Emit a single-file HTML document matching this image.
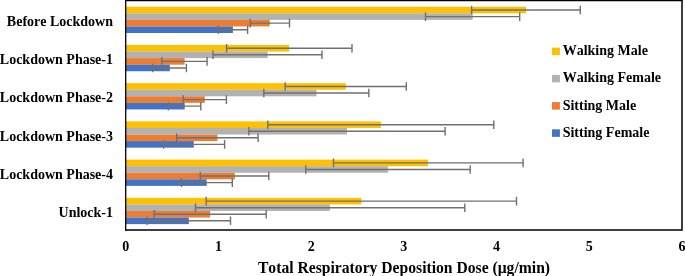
<!DOCTYPE html>
<html><head><meta charset="utf-8"><title>Total Respiratory Deposition Dose</title>
<style>
html,body{margin:0;padding:0;background:#fff;}
body{width:685px;height:276px;overflow:hidden;}
svg{display:block;will-change:transform;}
text{font-family:"Liberation Serif","Times New Roman",serif;font-weight:bold;fill:#000;font-kerning:none;}
</style></head><body>
<svg width="685" height="276" viewBox="0 0 685 276">
<rect width="685" height="276" fill="#fff"/>

<rect x="125.7" y="6.74" width="400.30" height="6.57" fill="#FFC000"/>
<rect x="125.7" y="13.30" width="347.00" height="6.57" fill="#B2B2B2"/>
<rect x="125.7" y="19.87" width="144.00" height="6.57" fill="#ED7D31"/>
<rect x="125.7" y="26.44" width="107.20" height="6.57" fill="#4472C4"/>
<path d="M471.6 10.02H580.3M471.6 5.72V14.32M580.3 5.72V14.32" stroke="#707070" stroke-width="1.4" fill="none"/>
<path d="M425.5 16.59H519.7M425.5 12.29V20.89M519.7 12.29V20.89" stroke="#707070" stroke-width="1.4" fill="none"/>
<path d="M250.3 23.15H289.5M250.3 18.85V27.45M289.5 18.85V27.45" stroke="#707070" stroke-width="1.4" fill="none"/>
<path d="M218.4 29.72H247.6M218.4 25.42V34.02M247.6 25.42V34.02" stroke="#707070" stroke-width="1.4" fill="none"/>
<text x="113" y="26.00" text-anchor="end" font-size="14">Before Lockdown</text>
<rect x="125.7" y="44.96" width="163.50" height="6.57" fill="#FFC000"/>
<rect x="125.7" y="51.52" width="141.90" height="6.57" fill="#B2B2B2"/>
<rect x="125.7" y="58.09" width="58.90" height="6.57" fill="#ED7D31"/>
<rect x="125.7" y="64.66" width="44.10" height="6.57" fill="#4472C4"/>
<path d="M226.6 48.24H352M226.6 43.94V52.54M352 43.94V52.54" stroke="#707070" stroke-width="1.4" fill="none"/>
<path d="M213 54.81H322M213 50.51V59.11M322 50.51V59.11" stroke="#707070" stroke-width="1.4" fill="none"/>
<path d="M161.8 61.37H207.1M161.8 57.07V65.67M207.1 57.07V65.67" stroke="#707070" stroke-width="1.4" fill="none"/>
<path d="M152.7 67.94H186.4M152.7 63.64V72.24M186.4 63.64V72.24" stroke="#707070" stroke-width="1.4" fill="none"/>
<text x="113" y="64.22" text-anchor="end" font-size="14">Lockdown Phase-1</text>
<rect x="125.7" y="83.18" width="220.05" height="6.57" fill="#FFC000"/>
<rect x="125.7" y="89.74" width="190.80" height="6.57" fill="#B2B2B2"/>
<rect x="125.7" y="96.31" width="79.10" height="6.57" fill="#ED7D31"/>
<rect x="125.7" y="102.88" width="59.00" height="6.57" fill="#4472C4"/>
<path d="M285.2 86.46H406.3M285.2 82.16V90.76M406.3 82.16V90.76" stroke="#707070" stroke-width="1.4" fill="none"/>
<path d="M263.8 93.03H368.8M263.8 88.73V97.33M368.8 88.73V97.33" stroke="#707070" stroke-width="1.4" fill="none"/>
<path d="M183.2 99.59H226.4M183.2 95.29V103.89M226.4 95.29V103.89" stroke="#707070" stroke-width="1.4" fill="none"/>
<path d="M168.3 106.16H200.8M168.3 101.86V110.46M200.8 101.86V110.46" stroke="#707070" stroke-width="1.4" fill="none"/>
<text x="113" y="102.44" text-anchor="end" font-size="14">Lockdown Phase-2</text>
<rect x="125.7" y="121.40" width="255.20" height="6.57" fill="#FFC000"/>
<rect x="125.7" y="127.96" width="221.20" height="6.57" fill="#B2B2B2"/>
<rect x="125.7" y="134.53" width="91.70" height="6.57" fill="#ED7D31"/>
<rect x="125.7" y="141.10" width="68.10" height="6.57" fill="#4472C4"/>
<path d="M267.8 124.68H493.8M267.8 120.38V128.98M493.8 120.38V128.98" stroke="#707070" stroke-width="1.4" fill="none"/>
<path d="M248.9 131.25H445.1M248.9 126.95V135.55M445.1 126.95V135.55" stroke="#707070" stroke-width="1.4" fill="none"/>
<path d="M176.7 137.81H258.1M176.7 133.51V142.11M258.1 133.51V142.11" stroke="#707070" stroke-width="1.4" fill="none"/>
<path d="M163.6 144.38H224.6M163.6 140.08V148.68M224.6 140.08V148.68" stroke="#707070" stroke-width="1.4" fill="none"/>
<text x="113" y="140.66" text-anchor="end" font-size="14">Lockdown Phase-3</text>
<rect x="125.7" y="159.62" width="302.40" height="6.57" fill="#FFC000"/>
<rect x="125.7" y="166.18" width="262.20" height="6.57" fill="#B2B2B2"/>
<rect x="125.7" y="172.75" width="109.10" height="6.57" fill="#ED7D31"/>
<rect x="125.7" y="179.32" width="81.00" height="6.57" fill="#4472C4"/>
<path d="M333.5 162.90H523.1M333.5 158.60V167.20M523.1 158.60V167.20" stroke="#707070" stroke-width="1.4" fill="none"/>
<path d="M305.7 169.47H470.2M305.7 165.17V173.77M470.2 165.17V173.77" stroke="#707070" stroke-width="1.4" fill="none"/>
<path d="M200.3 176.03H268.8M200.3 171.73V180.33M268.8 171.73V180.33" stroke="#707070" stroke-width="1.4" fill="none"/>
<path d="M181.4 182.60H232.3M181.4 178.30V186.90M232.3 178.30V186.90" stroke="#707070" stroke-width="1.4" fill="none"/>
<text x="113" y="178.88" text-anchor="end" font-size="14">Lockdown Phase-4</text>
<rect x="125.7" y="197.84" width="235.70" height="6.57" fill="#FFC000"/>
<rect x="125.7" y="204.40" width="204.20" height="6.57" fill="#B2B2B2"/>
<rect x="125.7" y="210.97" width="84.40" height="6.57" fill="#ED7D31"/>
<rect x="125.7" y="217.54" width="63.10" height="6.57" fill="#4472C4"/>
<path d="M206.2 201.12H516.5M206.2 196.82V205.42M516.5 196.82V205.42" stroke="#707070" stroke-width="1.4" fill="none"/>
<path d="M195.5 207.69H464.8M195.5 203.39V211.99M464.8 203.39V211.99" stroke="#707070" stroke-width="1.4" fill="none"/>
<path d="M154.3 214.25H266.2M154.3 209.95V218.55M266.2 209.95V218.55" stroke="#707070" stroke-width="1.4" fill="none"/>
<path d="M147.1 220.82H230.5M147.1 216.52V225.12M230.5 216.52V225.12" stroke="#707070" stroke-width="1.4" fill="none"/>
<text x="113" y="217.10" text-anchor="end" font-size="14">Unlock-1</text>
<path d="M125 230H682V0" fill="none" stroke="#000" stroke-width="1.5" stroke-linejoin="miter"/>
<path d="M125.7 0V230.75" fill="none" stroke="#000" stroke-width="1.3"/>
<path d="M125.05 0.65H682.75" fill="none" stroke="#000" stroke-width="1.3"/>
<text x="125.70" y="251.15" text-anchor="middle" font-size="14">0</text>
<text x="218.42" y="251.15" text-anchor="middle" font-size="14">1</text>
<text x="311.14" y="251.15" text-anchor="middle" font-size="14">2</text>
<text x="403.86" y="251.15" text-anchor="middle" font-size="14">3</text>
<text x="496.58" y="251.15" text-anchor="middle" font-size="14">4</text>
<text x="589.30" y="251.15" text-anchor="middle" font-size="14">5</text>
<text x="682.02" y="251.15" text-anchor="middle" font-size="14">6</text>
<text x="404.0" y="272.6" text-anchor="middle" font-size="15.65">Total Respiratory Deposition Dose (μg/min)</text>
<rect x="552" y="47.65" width="7.9" height="7.5" fill="#FFC000"/>
<text x="562.7" y="55.15" font-size="14">Walking Male</text>
<rect x="552" y="74.88" width="7.9" height="7.5" fill="#B2B2B2"/>
<text x="562.7" y="82.38" font-size="14">Walking Female</text>
<rect x="552" y="102.11" width="7.9" height="7.5" fill="#ED7D31"/>
<text x="562.7" y="109.61" font-size="14">Sitting Male</text>
<rect x="552" y="129.34" width="7.9" height="7.5" fill="#4472C4"/>
<text x="562.7" y="136.84" font-size="14">Sitting Female</text>
</svg></body></html>
